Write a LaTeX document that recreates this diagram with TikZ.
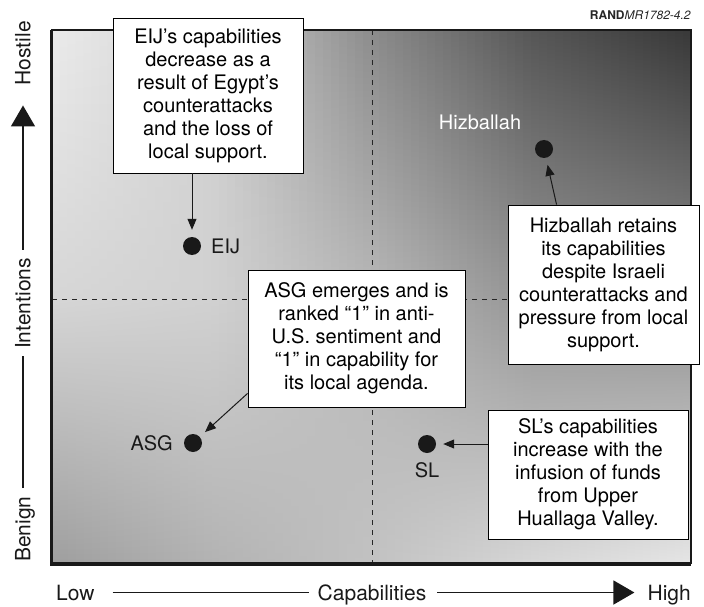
\documentclass[tikz,border=0pt]{standalone}
\usepackage{fontspec}
\setmainfont{TeX Gyre Heros}
\usetikzlibrary{arrows.meta,calc}
\begin{document}
\begin{tikzpicture}[x=1pt,y=-1pt,
  box/.style={draw=black, line width=0.9pt, fill=white, align=center,
    font=\fontsize{20}{23}\selectfont, inner sep=0pt},
  dot/.style={circle, fill=black!90, minimum size=18pt, inner sep=0pt},
  lbl/.style={font=\fontsize{20}{23}\selectfont, inner sep=0pt, text=black!90},
  axlbl/.style={font=\fontsize{21}{24}\selectfont, inner sep=0pt, text=black!90},
  arr/.style={line width=1pt, black!90, -{Triangle[length=11pt,width=9pt]}, shorten >=7pt},
  axisline/.style={line width=1.5pt, black!90},
  bigtip/.style={-{Triangle[length=21pt,width=24pt]}},
  guide/.style={line width=0.9pt, dash pattern=on 5pt off 5pt, black!85},
]
\useasboundingbox (0,0) rectangle (704,607);

% background shading of the plot area
\foreach \ua/\ub/\ta/\tb/\ma/\mb/\ba/\bb in
  {0/0.25/0.92/0.82/0.84/0.82/0.62/0.70,
   0.25/0.5/0.82/0.55/0.82/0.72/0.70/0.76,
   0.5/0.75/0.55/0.34/0.72/0.58/0.76/0.84,
   0.75/1/0.34/0.22/0.58/0.55/0.84/0.90}{
  \foreach \j in {0,...,19}{
    \pgfmathsetmacro\ff{(\j+0.5)/20}
    \pgfmathsetmacro\xl{52+639*(\ua+(\ub-\ua)*\j/20)}
    \pgfmathsetmacro\xr{52+639*(\ua+(\ub-\ua)*(\j+1)/20)+0.5}
    \pgfmathsetmacro\gT{\ta+(\tb-\ta)*\ff}
    \pgfmathsetmacro\gM{\ma+(\mb-\ma)*\ff}
    \pgfmathsetmacro\gB{\ba+(\bb-\ba)*\ff}
    \definecolor{ct}{gray}{\gT}
    \definecolor{cm}{gray}{\gM}
    \definecolor{cb}{gray}{\gB}
    \shade[top color=ct, bottom color=cb, middle color=cm] (\xl,30) rectangle (\xr,563);
  }
}

% quadrant guides
\coordinate (vt) at (372,30);
\coordinate (vb) at (372,563);
\coordinate (hl) at (52,299);
\coordinate (hr) at (691,299);
\draw[guide] (vt) -- (vb);
\draw[guide] (hl) -- (hr);

% frame
\draw[line width=1.5pt, black!90] (52,30) rectangle (691,563);
\draw[line width=3pt, black!90] (51.5,30) -- (51.5,564) -- (691,564);

% source label
\node[anchor=base east, font=\fontsize{12}{14}\selectfont, inner sep=0pt, text=black!85] (rand) at (691,20)
  {\textbf{RAND}\textit{MR1782-4.2}};

% boxes
\node[box, minimum width=190pt, minimum height=155pt] (eijbox) at (208,95.5)
  {EIJ’s capabilities\\decrease as a\\result of Egypt’s\\counterattacks\\and the loss of\\local support.};
\node[box, minimum width=217pt, minimum height=137pt] (asgbox) at (356.5,338.5)
  {ASG emerges and is\\ranked “1” in anti-\\U.S. sentiment and\\“1” in capability for\\its local agenda.};
\node[box, minimum width=191pt, minimum height=159pt] (hizbox) at (603.5,284.5)
  {Hizballah retains\\its capabilities\\despite Israeli\\counterattacks and\\pressure from local\\support.};
\node[box, minimum width=200pt, minimum height=129pt] (slbox) at (588,474.5)
  {SL’s capabilities\\increase with the\\infusion of funds\\from Upper\\Huallaga Valley.};

% points
\node[dot] (eij) at (192,246) {};
\node[dot] (hiz) at (544,149) {};
\node[dot] (asg) at (193,443) {};
\node[dot] (sl) at (427,444) {};

\node[lbl, anchor=west] (eijlbl) at (211,246) {EIJ};
\node[lbl, anchor=east] (asglbl) at (173,443) {ASG};
\node[lbl, text=white] (hizlbl) at (480,122) {Hizballah};
\node[lbl] (sllbl) at (427,470) {SL};

% callout arrows
\coordinate (asgtail) at ($(asgbox.south west)+(0,-14)$);
\coordinate (hiztail) at ($(hizbox.north west)+(49,0)$);
\draw[arr] (eijbox.south -| eij) -- (eij);
\draw[arr] (asgtail) -- (asg);
\draw[arr] (hiztail) -- (hiz);
\draw[arr] (slbox.west |- sl) -- (sl);

% horizontal axis
\node[axlbl, anchor=base west] (low) at (56,600) {Low};
\node[axlbl, anchor=base] (cap) at (372,600) {Capabilities};
\node[axlbl, anchor=base east] (high) at (691,600) {High};
\draw[axisline] ($(low.east)+(18,0)$) -- ($(cap.west |- low.east)+(-9,0)$);
\draw[axisline, bigtip] ($(cap.east |- low.east)+(11,0)$) -- ($(high.west |- low.east)+(-13,0)$);

% vertical axis
\coordinate (axx) at (23,0);
\node[axlbl, rotate=90, anchor=base west] (benign) at (30.5,562) {Benign};
\node[axlbl, rotate=90, anchor=base] (intent) at (30.5,303.5) {Intentions};
\node[axlbl, rotate=90, anchor=base east] (hostile) at (30.5,21) {Hostile};
\draw[axisline] ($(benign.east -| axx)+(0,-8)$) -- ($(intent.west -| axx)+(0,7)$);
\draw[axisline, bigtip] ($(intent.east -| axx)+(0,-8)$) -- ($(hostile.west -| axx)+(0,20)$);
\end{tikzpicture}
\end{document}
